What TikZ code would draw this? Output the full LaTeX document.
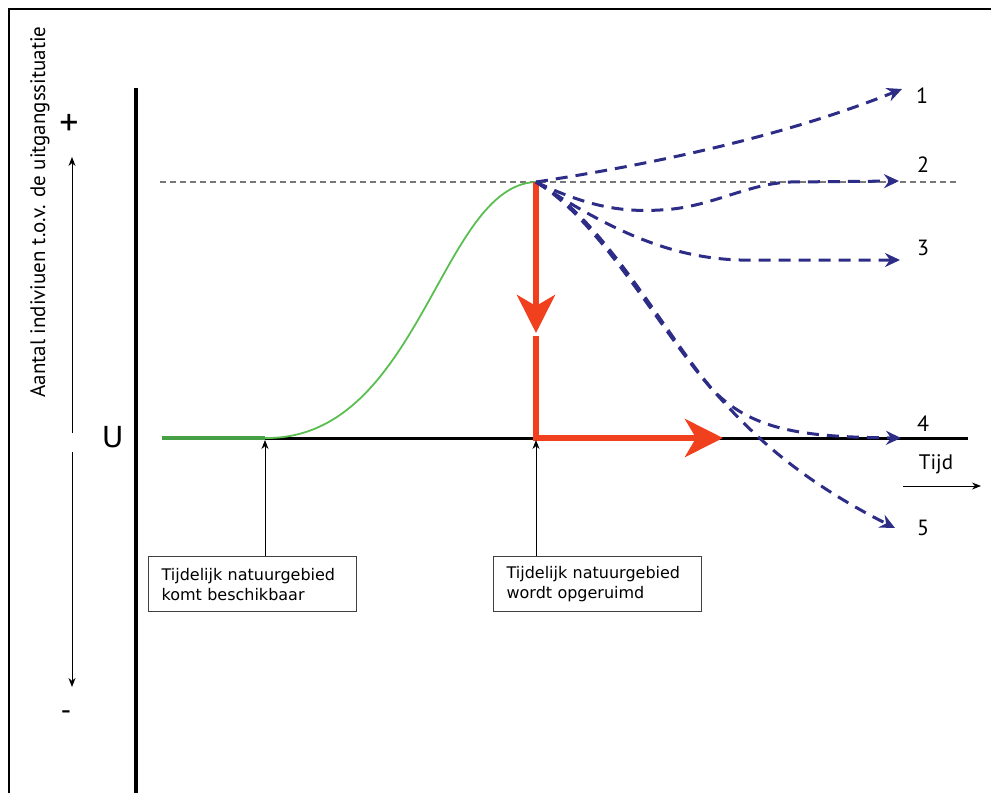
\documentclass[tikz,border=0pt]{standalone}
\usepackage{fontspec}
\setmainfont{PT Sans}
\newfontfamily\boxfont{DejaVu Sans}
\usetikzlibrary{arrows.meta}
\definecolor{navy}{RGB}{45,45,135}
\definecolor{redor}{RGB}{240,64,30}
\definecolor{gdark}{RGB}{70,160,70}
\definecolor{glight}{RGB}{90,190,80}
\definecolor{greyd}{RGB}{120,120,120}
\tikzset{
  bluecurve/.style={draw=navy, line width=3pt, dash pattern=on 12pt off 8pt,
     -{Stealth[length=15pt,width=14pt,inset=5pt,fill=navy]}},
  redline/.style={draw=redor, line width=6pt},
  redtip/.style={-{Stealth[length=38pt,width=38pt,inset=11pt]}},
  thinarrow/.style={draw=black, line width=1pt, -{Stealth[length=9pt,width=7pt]}},
  infobox/.style={draw=black!75, line width=1.2pt, anchor=north west, align=left,
     font=\boxfont\fontsize{16}{20}\selectfont, inner xsep=13pt, inner ysep=0pt,
     minimum height=55pt, text width=182pt},
  numlbl/.style={font=\fontsize{22}{24}\selectfont, inner sep=0pt},
  greydash/.style={draw=greyd, line width=1.2pt, dash pattern=on 6pt off 4pt}
}
\begin{document}
\begin{tikzpicture}[x=1pt,y=-1pt]
\useasboundingbox (0,0) rectangle (991,793);
% frame
\draw[line width=2pt] (9,793) -- (9,9) -- (991,9);
% named points
\coordinate (peak) at (536,182);
\coordinate (start) at (265,438);
\coordinate (drop) at (536,438);
\coordinate (gl) at (162,438);
\coordinate (bend) at (968,438);
% grey dashed reference line
\coordinate (dl) at (160,182);
\coordinate (dr) at (958,182);
\draw[greydash] (dl) -- (dr);
% main vertical axis
\coordinate (axt) at (136,88);
\coordinate (axb) at (136,793);
\draw[line width=4pt] (axt) -- (axb);
% baseline
\draw[line width=3pt] (start) -- (bend);
\draw[draw=gdark, line width=4pt] (gl) -- (start);
% green curve
\draw[draw=glight, line width=1.8pt] (start) .. controls (420,440) and (440,185) .. (peak);
% red arrows
\coordinate (rmid) at (536,333);
\coordinate (rend) at (723,438);
\draw[redline, redtip] (peak) -- (rmid);
\draw[redline, redtip, line join=miter] (536,336) -- (drop) -- (rend);
% blue scenario curves
\coordinate (e1) at (902,89);
\coordinate (e2) at (899,181);
\coordinate (e3) at (900,260);
\coordinate (e4) at (901,438);
\coordinate (e5) at (895,528);
\draw[bluecurve] (peak) .. controls (680,160) and (800,130) .. (e1);
\draw[bluecurve] (peak) .. controls (590,208) and (625,212) .. (660,210)
   .. controls (710,208) and (745,184) .. (790,182) -- (e2);
\draw[bluecurve] (peak) .. controls (610,230) and (670,258) .. (740,260) -- (e3);
\draw[bluecurve] (peak) .. controls (600,220) and (660,330) .. (710,387)
   .. controls (750,430) and (800,437) .. (e4);
\draw[bluecurve] (peak) .. controls (603,218) and (662,330) .. (712,389)
   .. controls (752,435) and (800,480) .. (e5);
% number labels
\node[numlbl] (n1) at (922,96) {1};
\node[numlbl] (n2) at (923,165) {2};
\node[numlbl] (n3) at (923,248) {3};
\node[numlbl] (n4) at (923,424) {4};
\node[numlbl] (n5) at (923,528) {5};
% time label
\node[font=\fontsize{21}{24}\selectfont, inner sep=0pt] (tijd) at (936,464) {Tijd};
\coordinate (ta) at (903,486);
\coordinate (tb) at (981,486);
\draw[thinarrow] (ta) -- (tb);
% boxes
\node[infobox] (b1) at (148,556) {Tijdelijk natuurgebied\\komt beschikbaar};
\node[infobox] (b2) at (493,556) {Tijdelijk natuurgebied\\wordt opgeruimd};
\coordinate (t1) at (265,440);
\coordinate (t2) at (536,440);
\draw[thinarrow] (t1 |- b1.north) -- (t1);
\draw[thinarrow] (t2 |- b2.north) -- (t2);
% left scale
\coordinate (ytop) at (72,157);
\coordinate (yu1) at (72,433);
\coordinate (yu2) at (72,452);
\coordinate (ybot) at (72,687);
\draw[thinarrow] (yu1) -- (ytop);
\draw[thinarrow] (yu2) -- (ybot);
\node[font=\fontsize{38}{40}\selectfont, inner sep=0pt] (plus) at (69,125) {+};
\node[font=\fontsize{30}{32}\selectfont, inner sep=0pt] (minus) at (66,716) {-};
\node[font=\boxfont\fontsize{29}{32}\selectfont, inner sep=0pt] (U) at (113,437) {U};
\node[rotate=90, font=\fontsize{21}{24}\selectfont, inner sep=0pt] (ylab) at (40,212) {Aantal indiviuen t.o.v. de uitgangssituatie};
\end{tikzpicture}
\end{document}
